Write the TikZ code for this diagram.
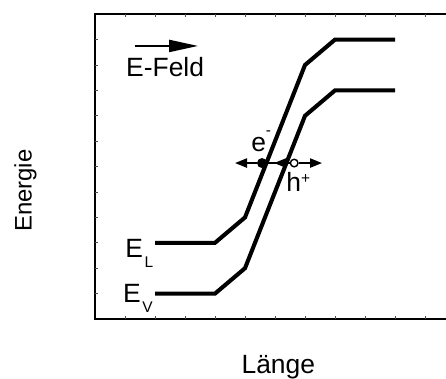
\documentclass[tikz,border=0pt]{standalone}
\usepackage{fontspec}
\setmainfont{Liberation Sans}
\usetikzlibrary{arrows.meta, positioning, calc}
\tikzset{
    banddiagram/.style={x=0.75cm, y=0.635cm, font=\fontsize{18.8}{22}\selectfont},
    band/.style={line width=2.9pt, line join=miter},
    frame/.style={line width=1.4pt},
    tickmark/.style={line width=0.5pt, black!70},
    electron/.style={circle, fill, inner sep=0pt, minimum size=0.25cm},
    hole/.style={circle, draw, fill=white, line width=1pt, inner sep=0pt, minimum size=0.19cm},
    motion/.style={line width=1.2pt, -{Triangle[length=0.3cm, width=0.23cm]}},
    fieldarrow/.style={line width=1.4pt, -{Triangle[length=0.72cm, width=0.3cm]}},
    label/.style={anchor=base west, inner sep=0pt},
}
\newcommand{\idxtext}[2]{\raisebox{#1}{\fontsize{11}{11}\selectfont #2}}

\begin{document}
\begin{tikzpicture}[banddiagram]
        \useasboundingbox (-3.1667,-2.362) rectangle (11.7,12.559);

        % frame with ticks
        \draw[frame] (11.7,12) -- (0,12) -- (0,0) -- (11.7,0);
        \foreach \i in {1,...,11} {
            \draw[tickmark] (0,\i) -- ++(0.1,0);
            \draw[tickmark] (\i,0) -- ++(0,0.12);
            \draw[tickmark] (\i,12) -- ++(0,-0.12);
        }

        % bands
        \draw[band] (2,3) -- (4,3) -- (5,4) -- (7,10) -- (8,11) -- (10,11);
        \draw[band] (2,1) -- (4,1) -- (5,2) -- (7,8) -- (8,9) -- (10,9);

        % field
        \coordinate (ftail) at (1.333,10.75);
        \coordinate (fhead) at (3.433,10.75);
        \draw[fieldarrow] (ftail) -- (fhead);
        \node[label] (feld) at (1.03,9.54) {E-Feld};

        % carriers
        \node[electron] (e) at (5.567,6.14) {};
        \node[hole, right=0.56cm of e] (h) {};
        \coordinate (eleft) at (4.667,6.14);
        \coordinate (hmid) at (5.97,6.14);
        \coordinate (hright) at (7.567,6.14);
        \draw[line width=1.2pt] (e) -- (h);
        \draw[motion] (e) -- (eleft);
        \draw[motion] (h) -- (hmid);
        \draw[motion] (h) -- (hright);
        \node[label] (elabel) at (5.2,6.59) {e\idxtext{11.2pt}{-}};
        \node[label] (hlabel) at (6.37,5.01) {h\idxtext{6.2pt}{+}};

        % band labels
        \node[label] (el) at (1.0,2.44) {E\kern1.2pt\idxtext{-7.8pt}{L}};
        \node[label] (ev) at (0.93,0.64) {E\kern1.2pt\idxtext{-7.1pt}{V}};

        % axes
        \node[rotate=90, anchor=base, inner sep=0pt, font=\fontsize{17}{20}\selectfont] (energie) at (-2.11,5.05) {Energie};
        \node[anchor=base, inner sep=0pt] (laenge) at (6.11,-2.14) {Länge};
    \end{tikzpicture}
\end{document}
